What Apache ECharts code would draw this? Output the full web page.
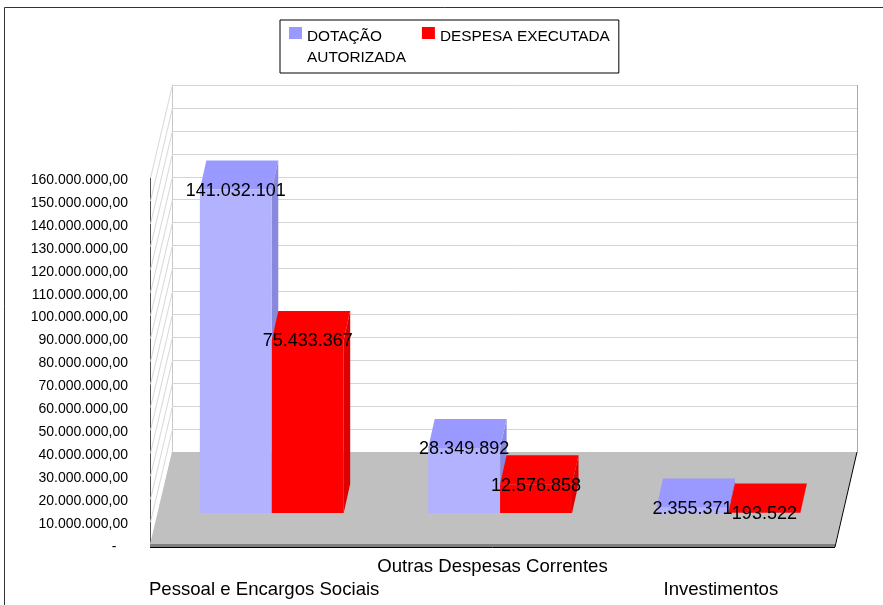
<!DOCTYPE html>
<html>
<head>
<meta charset="utf-8">
<style>html,body{margin:0;padding:0;background:#fff}#main{width:883px;height:605px}</style>
<script src="https://cdn.jsdelivr.net/npm/echarts@6/dist/echarts.min.js"></script>
</head>
<body>
<div id="main"></div>
<script>
var categories = ['Pessoal e Encargos Sociais', 'Outras Despesas Correntes', 'Investimentos'];
var dotacao = [141032101, 28349892, 2355371];
var despesa = [75433367, 12576858, 193522];
var yTicks = [0, 10000000, 20000000, 30000000, 40000000, 50000000, 60000000, 70000000, 80000000,
	90000000, 100000000, 110000000, 120000000, 130000000, 140000000, 150000000, 160000000];

var FONT = '"Liberation Sans", Arial, sans-serif';
//profundidade do "3D": parede do fundo e barras
var wallDx = 22, wallDy = -93;
var barPlaneDx = 7.6, barPlaneDy = -32;
var barDx = 6.5, barDy = -29;

function dots(v){
	return String(v).replace(/\B(?=(\d{3})+$)/g, '.');
}
function toPairs(values){
	return values.map(function(v, i){ return [i, v]; });
}
function poly(points, fill){
	return {type: 'polygon', shape: {points: points}, style: {fill: fill}, silent: true};
}

//barra com frente, topo e lado
function barRenderer(left, front, top, side){
	return function(params, api){
		var topPt = api.coord([api.value(0), api.value(1)]);
		var base = api.coord([api.value(0), 0]);
		var w = api.size([1, 0])[0] * 0.315;
		var x0 = base[0] + barPlaneDx - (left ? w : 0);
		var x1 = x0 + w;
		var y0 = base[1] + barPlaneDy;
		var yt = topPt[1] + barPlaneDy;
		return {type: 'group', children: [
			poly([[x1, y0], [x1 + barDx, y0 + barDy], [x1 + barDx, yt + barDy], [x1, yt]], side),
			poly([[x0, yt], [x0 + barDx, yt + barDy], [x1 + barDx, yt + barDy], [x1, yt]], top),
			poly([[x0, y0], [x1, y0], [x1, yt], [x0, yt]], front),
			{type: 'text', z2: 50, silent: true, style: {
				x: (x0 + x1) / 2, y: yt + 1.5, text: dots(api.value(1)),
				align: 'center', verticalAlign: 'middle',
				fontSize: 18, fontFamily: FONT, fill: '#000'
			}}
		]};
	};
}

//linhas diagonais da parede esquerda
function renderWall(params, api){
	var p = api.coord([0, api.value(0)]);
	var x = params.coordSys.x;
	return {type: 'line', silent: true,
		shape: {x1: x + 0.5, y1: p[1], x2: x + wallDx + 0.5, y2: p[1] + wallDy},
		style: {stroke: '#d8d8d8', lineWidth: 1}};
}

//piso cinza
function renderFloor(params, api){
	var c = params.coordSys;
	var l = c.x, r = c.x + c.width, b = c.y + c.height;
	return {type: 'group', children: [
		poly([[l, b], [l + wallDx, b + wallDy], [r + wallDx, b + wallDy], [r, b]], '#c0c0c0'),
		poly([[l, b - 1], [r, b - 1], [r, b + 2], [l, b + 2]], '#808080'),
		{type: 'line', silent: true, shape: {x1: l, y1: b + 2.5, x2: r, y2: b + 2.5}, style: {stroke: '#000', lineWidth: 1}},
		{type: 'line', silent: true, shape: {x1: r, y1: b + 2, x2: r + wallDx, y2: b + wallDy}, style: {stroke: '#000', lineWidth: 1}},
		{type: 'line', silent: true, shape: {x1: r + wallDx + 0.5, y1: b + wallDy, x2: r + wallDx + 0.5, y2: b + wallDy - c.height}, style: {stroke: '#a8a8a8', lineWidth: 1}}
	]};
}

var myChart = echarts.init(document.getElementById('main'), null, {renderer: 'canvas'});
myChart.setOption({
	animation: false,
	backgroundColor: '#fff',
	textStyle: {fontFamily: FONT},
	graphic: [{
		type: 'rect', silent: true, z: -1,
		shape: {x: 4.5, y: 7.5, width: 900, height: 620},
		style: {fill: 'none', stroke: '#333', lineWidth: 1}
	}],
	legend: {
		left: 280, top: 20,
		data: ['DOTAÇÃO AUTORIZADA', 'DESPESA EXECUTADA'],
		//quadrado em cima, ponto vazio embaixo, para alinhar com a primeira linha
		icon: 'path://M0 0H13V12H0Z M0 40L0 40',
		itemWidth: 13, itemHeight: 40, itemGap: 16,
		padding: [6, 9, 5, 9],
		backgroundColor: '#fff', borderColor: '#000', borderWidth: 1,
		selectedMode: false,
		formatter: function(name){
			return name === 'DOTAÇÃO AUTORIZADA' ? 'DOTAÇÃO\nAUTORIZADA' : name + '\n ';
		},
		textStyle: {fontSize: 15.4, lineHeight: 21, color: '#000', fontFamily: FONT}
	},
	grid: [
		{left: 150, top: 178, width: 685, height: 367},
		{left: 172, top: 85, width: 685, height: 367}
	],
	xAxis: [
		{type: 'category', gridIndex: 0, data: categories,
			axisLine: {show: false}, axisTick: {show: false},
			axisLabel: {
				interval: 0, margin: 10, fontSize: 18.6, lineHeight: 23, color: '#000', fontFamily: FONT,
				formatter: function(v, i){ return i === 1 ? v : '\n' + v; }
			}},
		{type: 'category', gridIndex: 1, data: categories, show: false}
	],
	yAxis: [
		{type: 'value', gridIndex: 0, min: 0, max: 160000000, interval: 10000000,
			axisLine: {show: true, lineStyle: {color: '#555'}},
			axisTick: {show: false},
			splitLine: {show: false},
			axisLabel: {
				margin: 22, color: '#000',
				rich: {t: {fontSize: 14, fontFamily: FONT, color: '#000', padding: [4, 0, 0, 0]}},
				formatter: function(v){ return '{t|' + (v === 0 ? '-   ' : dots(v) + ',00') + '}'; }
			}},
		{type: 'value', gridIndex: 1, min: 0, max: 160000000, interval: 10000000,
			axisLine: {show: true, lineStyle: {color: '#c8c8c8'}},
			axisTick: {show: false},
			axisLabel: {show: false},
			splitLine: {show: true, lineStyle: {color: '#d4d4d4', width: 1}}}
	],
	series: [
		{type: 'custom', name: 'paredes', silent: true, xAxisIndex: 0, yAxisIndex: 0, clip: false,
			data: yTicks, encode: {y: 0}, renderItem: renderWall},
		{type: 'custom', name: 'piso', silent: true, xAxisIndex: 0, yAxisIndex: 0, clip: false,
			data: [[0, 0]], renderItem: renderFloor},
		{type: 'custom', name: 'DOTAÇÃO AUTORIZADA', silent: true, xAxisIndex: 0, yAxisIndex: 0, clip: false,
			itemStyle: {color: '#9999ff'}, data: toPairs(dotacao), encode: {x: 0, y: 1},
			renderItem: barRenderer(true, '#b2b2ff', '#9999ff', '#8888dd')},
		{type: 'custom', name: 'DESPESA EXECUTADA', silent: true, xAxisIndex: 0, yAxisIndex: 0, clip: false,
			itemStyle: {color: '#ff0000'}, data: toPairs(despesa), encode: {x: 0, y: 1},
			renderItem: barRenderer(false, '#ff0000', '#ff0000', '#dd0000')}
	]
});
</script>
</body>
</html>
